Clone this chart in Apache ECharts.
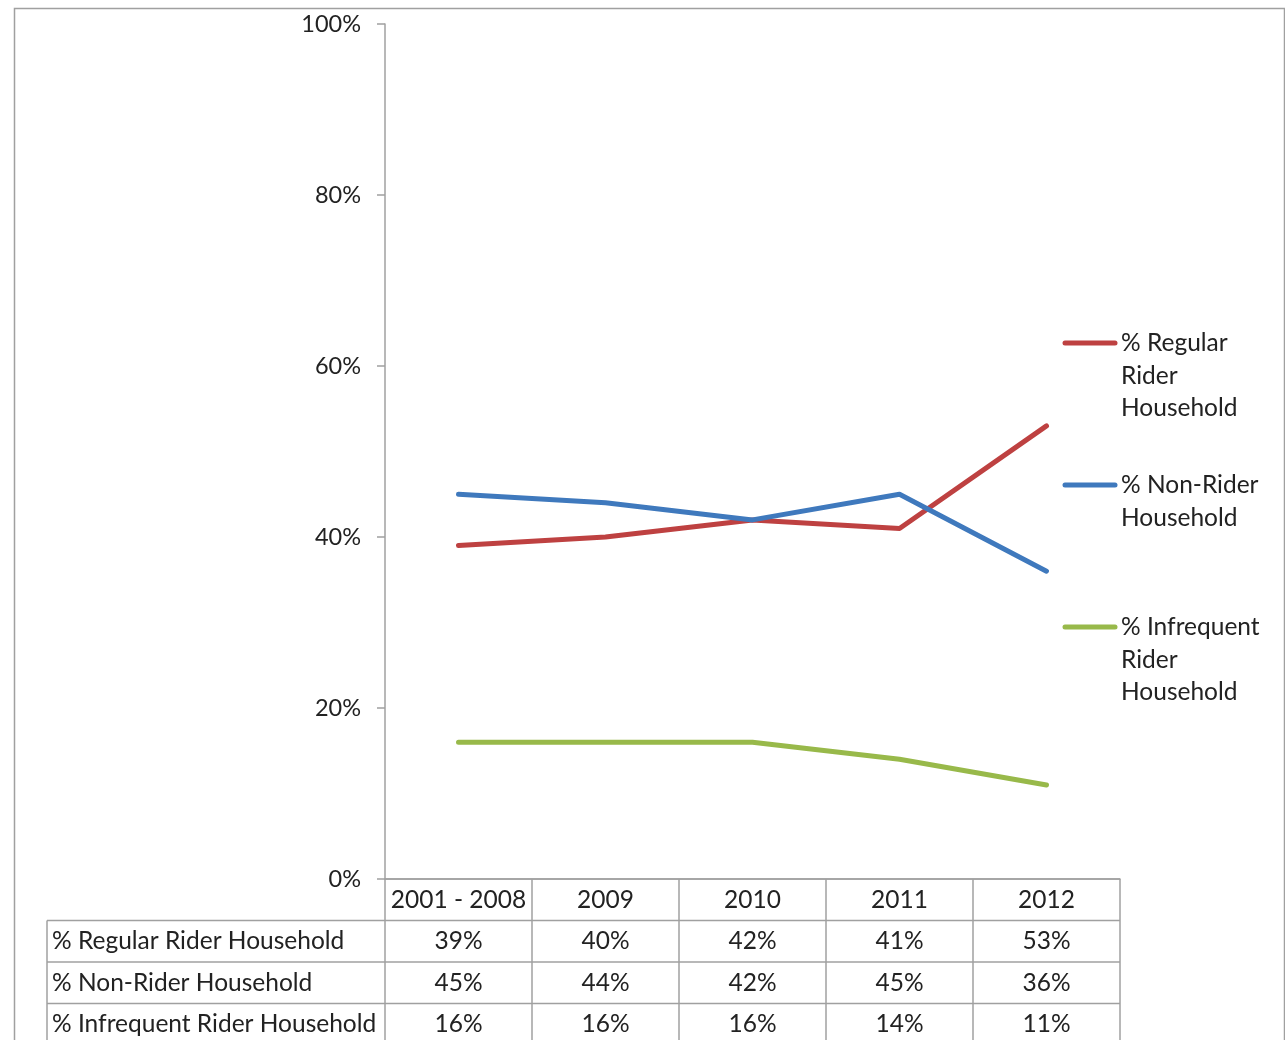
<!DOCTYPE html>
<html>
<head>
<meta charset="utf-8">
<style>
  html, body { margin: 0; padding: 0; background: #fff; }
  #chart { width: 1285px; height: 1040px; }
</style>
<script src="https://cdn.jsdelivr.net/npm/echarts@6/dist/echarts.min.js"></script>
</head>
<body>
<div id="chart"></div>
<script>
// Household rider shares by survey period
const categories = ['2001 - 2008', '2009', '2010', '2011', '2012'];
const regularRider = [39, 40, 42, 41, 53];
const nonRider = [45, 44, 42, 45, 36];
const infrequentRider = [16, 16, 16, 14, 11];
const seriesNames = ['% Regular Rider Household', '% Non-Rider Household', '% Infrequent Rider Household'];
const legendLabels = ['% Regular\nRider\nHousehold', '% Non-Rider\nHousehold', '% Infrequent\nRider\nHousehold'];
const yTicks = [0, 20, 40, 60, 80, 100];

const seriesValues = [regularRider, nonRider, infrequentRider];
const colors = ['#BE4141', '#3F79BD', '#98B94A'];
const FONT = 'Lato';
const FSIZE = 23.5;
const TABLE_FSIZE = 24.5;
const TEXT = '#222222';
const RULE = '#a0a0a0';

const chart = echarts.init(document.getElementById('chart'), null, { renderer: 'canvas' });

chart.setOption({
  backgroundColor: '#fff',
  animation: false,
  grid: { left: 385, top: 24, width: 735, height: 855, containLabel: false },
  xAxis: {
    type: 'category',
    data: categories,
    boundaryGap: true,
    axisLine: { show: true, lineStyle: { color: RULE, width: 1.5 } },
    axisTick: { show: false },
    axisLabel: { show: false },
    splitLine: { show: false }
  },
  yAxis: {
    type: 'value',
    min: yTicks[0],
    max: yTicks[yTicks.length - 1],
    interval: yTicks[1] - yTicks[0],
    axisLine: { show: true, lineStyle: { color: RULE, width: 1.5 } },
    axisTick: { show: true, inside: false, length: 8, lineStyle: { color: RULE, width: 1.5 } },
    axisLabel: {
      margin: 24,
      color: TEXT,
      fontFamily: FONT,
      fontSize: FSIZE,
      formatter: v => v + '%'
    },
    splitLine: { show: false }
  },
  series: seriesValues.map((vals, i) => ({
    name: seriesNames[i],
    type: 'line',
    data: vals,
    showSymbol: false,
    symbol: 'none',
    lineStyle: { color: colors[i], width: 5, cap: 'round', join: 'round' },
    itemStyle: { color: colors[i] },
    z: 3
  }))
});

// Data table beneath the plot, aligned to the category bands
function buildTable() {
  const px = v => (Array.isArray(v) ? v[0] : v);
  const centers = categories.map(c => px(chart.convertToPixel({ xAxisIndex: 0 }, c)));
  const band = centers[1] - centers[0];
  const bounds = centers.map(c => c - band / 2).concat([centers[centers.length - 1] + band / 2]);
  const yTop = chart.convertToPixel({ yAxisIndex: 0 }, 0);
  const top = Array.isArray(yTop) ? yTop[1] : yTop;
  const rowH = 41.5;
  const labelLeft = 47;
  const nRows = seriesNames.length;
  const bottom = top + rowH * (nRows + 1);
  const els = [];
  const line = (x1, y1, x2, y2) => els.push({
    type: 'line', silent: true, z: 10,
    shape: { x1, y1, x2, y2 },
    style: { stroke: RULE, lineWidth: 1.5 }
  });
  const text = (x, y, t, align) => els.push({
    type: 'text', silent: true, z: 11,
    x, y,
    style: { text: t, fill: TEXT, font: `${TABLE_FSIZE}px ${FONT}`, align, verticalAlign: 'middle' }
  });

  // outer frame of the chart area
  els.push({
    type: 'rect', silent: true, z: 0,
    shape: { x: 14.5, y: 8.5, width: 1270, height: 1100 },
    style: { fill: 'none', stroke: RULE, lineWidth: 1.5 }
  });

  // table rules
  line(bounds[0], top, bounds[bounds.length - 1], top);
  bounds.forEach(b => line(b, top, b, bottom));
  for (let r = 1; r <= nRows + 1; r++) {
    line(labelLeft, top + rowH * r, bounds[bounds.length - 1], top + rowH * r);
  }
  line(labelLeft, top + rowH, labelLeft, bottom);

  categories.forEach((c, i) => text(centers[i], top + rowH / 2, c, 'center'));
  seriesNames.forEach((name, r) => {
    const cy = top + rowH * (r + 1) + rowH / 2;
    text(labelLeft + 5, cy, name, 'left');
    seriesValues[r].forEach((v, i) => text(centers[i], cy, v + '%', 'center'));
  });

  // legend on the right: line sample beside the first line of wrapped text
  legendLabels.forEach((lbl, i) => {
    const y = 343 + i * 142;
    els.push({
      type: 'line', silent: true, z: 10,
      shape: { x1: 1065, y1: y, x2: 1115, y2: y },
      style: { stroke: colors[i], lineWidth: 5, lineCap: 'round' }
    });
    els.push({
      type: 'text', silent: true, z: 11,
      x: 1121, y: y - 16,
      style: { text: lbl, fill: TEXT, font: `${TABLE_FSIZE}px ${FONT}`, lineHeight: 32.5, align: 'left', verticalAlign: 'top' }
    });
  });

  chart.setOption({ graphic: { elements: els } });
}
buildTable();
</script>
</body>
</html>
